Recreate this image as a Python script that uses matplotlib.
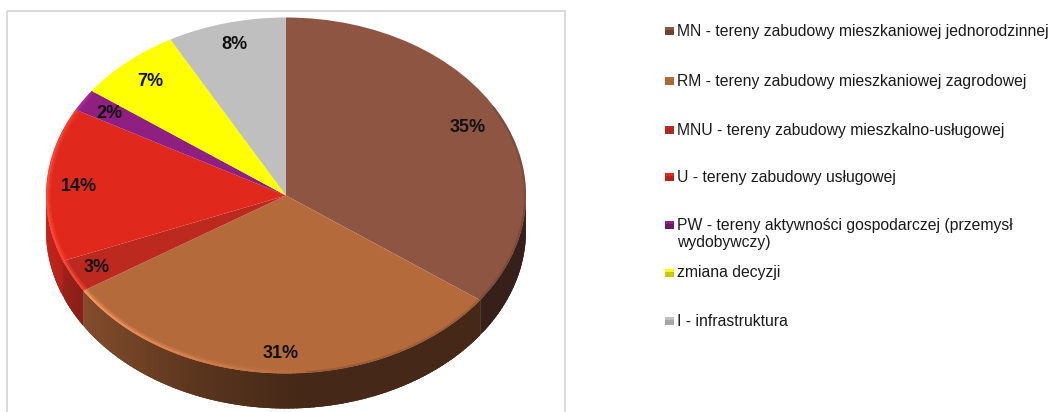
import numpy as np
import matplotlib
matplotlib.use("Agg")
import matplotlib.pyplot as plt
from matplotlib.patches import Rectangle
from matplotlib.colors import to_rgb

# dane
kategorie = ["MN - tereny zabudowy mieszkaniowej jednorodzinnej",
             "RM - tereny zabudowy mieszkaniowej zagrodowej",
             "MNU - tereny zabudowy mieszkalno-usługowej",
             "U - tereny zabudowy usługowej",
             "PW - tereny aktywności gospodarczej (przemysł\nwydobywczy)",
             "zmiana decyzji",
             "I - infrastruktura"]
wartosci = [35, 31, 3, 14, 2, 7, 8]

kolory = ["#8f5543", "#b56a3c", "#bc2a1f", "#e0281c", "#8f1f80", "#ffff00", "#bfbfbf"]
kolory_legendy = ["#6e4034", "#a8683a", "#a82a22", "#b8201c", "#6a1a66", "#c8c810", "#a6a6a6"]

# polozenie etykiet i legendy w pikselach
etykiety_xy = [(468, 127), (281, 354), (97, 267), (79, 186), (109, 113), (150, 81), (234, 44)]
legenda_y = [31, 81, 130, 177, 234, 273, 321]

plt.rcParams["font.family"] = ["Liberation Sans", "DejaVu Sans"]

W, H = 1054, 412
fig = plt.figure(figsize=(W / 100, H / 100), dpi=100)

# os w pikselach na ramke, etykiety i legende
ax = fig.add_axes([0, 0, 1, 1], zorder=2)
ax.set_xlim(0, W)
ax.set_ylim(H, 0)
ax.axis("off")
ax.add_patch(Rectangle((6.5, 10.5), 558, 420, fc="none", ec="#d9d9d9", lw=1.4, clip_on=False))

# os kola - elipsa wychodzi z proporcji osi
cx, cy, rx, ry = 286, 195.5, 240, 178
glebokosc = 35 / ry
kolo = fig.add_axes([(cx - rx) / W, 1 - (cy + ry) / H, 2 * rx / W, 2 * ry / H], zorder=1)
kolo.pie(wartosci, colors=kolory, startangle=90, counterclock=False, radius=1,
         wedgeprops={"linewidth": 0})
kolo.set_xlim(-1, 1)
kolo.set_ylim(-1, 1)
kolo.set_aspect("auto")
kolo.axis("off")
for p in kolo.patches:
    p.set_zorder(3)
    p.set_clip_on(False)

# bok kola (tylko przednia polowa), paski zachodza na siebie zeby nie bylo szczelin
granice = 90 - np.cumsum([0] + wartosci) * 3.6
for i, kolor in enumerate(kolory):
    od = max(granice[i + 1], -180)
    do = min(granice[i], 0)
    if od >= do:
        continue
    katy = np.arange(od, do, 1.0)
    for a in katy:
        b = min(a + 2.5, do)
        sr = np.cos(np.radians(a + 0.5))
        f = np.interp(sr, [-1, -0.84, -0.36, 0.05, 1], [0.88, 0.72, 0.5, 0.38, 0.38])
        c = tuple(np.array(to_rgb(kolor)) * f)
        t = np.radians(np.linspace(a, b, 4))
        xs = np.r_[np.cos(t), np.cos(t[::-1])]
        ys = np.r_[np.sin(t), np.sin(t[::-1]) - glebokosc]
        kolo.fill(xs, ys, color=c, lw=0, zorder=2, clip_on=False)

# jasna krawedz z lewej strony i ciemniejsza po prawej
for i, kolor in enumerate(kolory):
    od = granice[i + 1]
    do = granice[i]
    katy = np.linspace(od, do, max(int(do - od), 2) + 1)
    for a, b in zip(katy[:-1], katy[1:]):
        s = (a + b) / 2
        s2 = s if s > -180 else s + 360
        moc = np.interp(s, [-225, -190, -150, -120, -85], [0, 0.4, 0.32, 0.2, 0])
        t = np.radians([a, b])
        if moc > 0:
            c = np.clip(np.array(to_rgb(kolor)) * (1 + moc) + moc * 0.25, 0, 1)
            kolo.plot(np.cos(t) * 0.99, np.sin(t) * 0.987, color=c, lw=3, alpha=0.35, zorder=4,
                      solid_capstyle="butt", clip_on=False)
            kolo.plot(np.cos(t) * 0.995, np.sin(t) * 0.993, color=c, lw=1.5, alpha=0.8, zorder=4,
                      solid_capstyle="butt", clip_on=False)
        elif -85 < s2 < 30:
            c = np.array(to_rgb(kolor)) * 0.75
            kolo.plot(np.cos(t) * 0.996, np.sin(t) * 0.995, color=c, lw=1.5, alpha=0.5, zorder=4,
                      solid_capstyle="butt", clip_on=False)

# etykiety procentowe
for v, (x, y) in zip(wartosci, etykiety_xy):
    ax.text(x, y, f"{v}%", ha="center", va="center", fontsize=13, fontweight="bold", color="#111111")

# legenda
for nazwa, kol, kol2, y in zip(kategorie, kolory, kolory_legendy, legenda_y):
    y_znacznik = y if "\n" not in nazwa else 225
    ax.add_patch(Rectangle((665, y_znacznik - 4), 9, 8, fc=kol2, ec="none"))
    ax.add_patch(Rectangle((665, y_znacznik - 4), 9, 3, fc=kol, ec="none"))
    ax.text(677, y, nazwa, ha="left", va="center", fontsize=11.35, color="#1a1a1a", linespacing=1.15)

fig.savefig("out.png", dpi=100)
